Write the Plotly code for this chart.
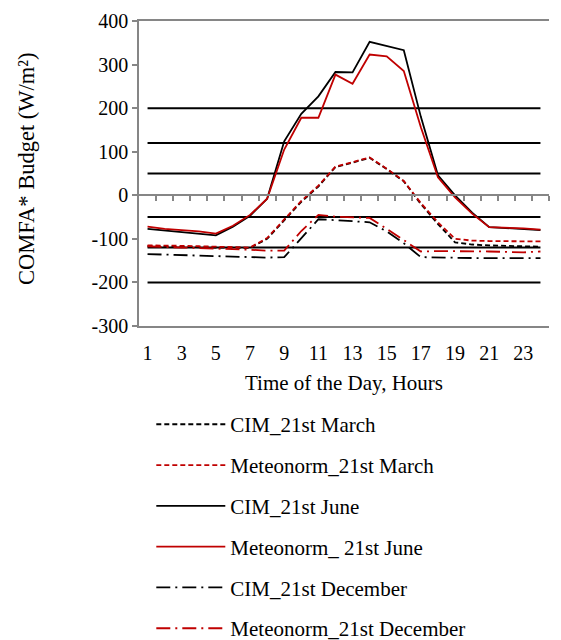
import plotly.graph_objects as go

hours = list(range(1, 25))
tick_hours = [1, 3, 5, 7, 9, 11, 13, 15, 17, 19, 21, 23]
tick_labels = [str(h) for h in tick_hours]
y_ticks = [-300, -200, -100, 0, 100, 200, 300, 400]
y_tick_labels = ["-300", "-200", "-100", "0", "100", "200", "300", "400"]

cim_march = [-117, -118, -118, -119, -120, -120, -121, -100, -57, -15, 20, 65,
             75, 86, 60, 32, -20, -66, -108, -113, -115, -116, -117, -118]
met_march = [-115, -115, -116, -117, -118, -119, -120, -98, -55, -13, 22, 66,
             76, 87, 61, 33, -18, -62, -100, -104, -105, -105, -106, -106]
cim_june = [-77, -81, -85, -88, -92, -72, -47, -8, 124, 187, 227, 283,
            282, 352, 343, 333, 180, 46, 0, -40, -73, -75, -77, -80]
met_june = [-72, -77, -80, -83, -88, -70, -45, -8, 105, 178, 178, 277,
            256, 323, 319, 285, 156, 41, -5, -42, -73, -74, -76, -79]
cim_dec = [-135, -136, -138, -139, -140, -140, -141, -143, -142, -98, -55, -57,
           -59, -62, -83, -110, -142, -143, -143, -144, -144, -144, -144, -144]
met_dec = [-117, -119, -120, -121, -122, -123, -125, -127, -127, -82, -45, -49,
           -50, -52, -77, -102, -129, -128, -128, -129, -129, -130, -131, -129]
thresholds = [200, 120, 50, -50, -120, -200]

RED = "#C00000"
BLACK = "#000000"
GRAY = "#868686"
FONT = "Liberation Serif"

series = [
    ("CIM_21st March", cim_march, BLACK, "5px,3px"),
    ("Meteonorm_21st March", met_march, RED, "5px,3px"),
    ("CIM_21st June", cim_june, BLACK, "solid"),
    ("Meteonorm_ 21st June", met_june, RED, "solid"),
    ("CIM_21st December", cim_dec, BLACK, "14px,5px,2px,5px"),
    ("Meteonorm_21st December", met_dec, RED, "14px,5px,2px,5px"),
]

fig = go.Figure()

for t in thresholds:
    fig.add_trace(go.Scatter(x=hours, y=[t] * len(hours), mode="lines",
                             line=dict(color=BLACK, width=2),
                             showlegend=False, hoverinfo="skip"))

for i, (name, vals, color, dash) in enumerate(series):
    fig.add_trace(go.Scatter(x=hours, y=vals, mode="lines", name=name,
                             legendgroup=f"g{i}",
                             line=dict(color=color, width=1.8, dash=dash)))

# zero axis with tick marks between categories
fig.add_trace(go.Scatter(x=[0.5, 24.5], y=[None, None], xaxis="x2",
                         showlegend=False, hoverinfo="skip"))

fig.update_layout(
    width=561, height=640,
    margin=dict(l=139, r=12, t=21, b=314, autoexpand=False),
    paper_bgcolor="white", plot_bgcolor="white",
    font=dict(family=FONT, size=20, color="black"),
    showlegend=True,
    legend=dict(x=0.03, xanchor="left", y=-0.256, yanchor="top",
                traceorder="grouped", tracegroupgap=10.5, itemwidth=69,
                font=dict(family=FONT, size=21, color="black"),
                bgcolor="rgba(0,0,0,0)"),
    xaxis=dict(range=[0.5, 24.5], tickmode="array", tickvals=tick_hours,
               ticktext=tick_labels, showgrid=False, zeroline=False,
               showline=True, linecolor=GRAY, linewidth=1.5, mirror=True,
               ticks="", ticklabelstandoff=8, automargin=False,
               tickfont=dict(family=FONT, size=20),
               title=dict(text="Time of the Day, Hours", standoff=13,
                          font=dict(family=FONT, size=21))),
    xaxis2=dict(range=[0.5, 24.5], overlaying="x", anchor="free",
                position=300 / 700, tickmode="array",
                tickvals=[h + 0.5 for h in hours], showticklabels=False,
                ticks="outside", ticklen=5, tickcolor=GRAY, tickwidth=1.5,
                showline=True, linecolor=GRAY, linewidth=1.5,
                showgrid=False, zeroline=False, automargin=False),
    yaxis=dict(range=[-300, 400], tickmode="array", tickvals=y_ticks,
               ticktext=y_tick_labels, automargin=False,
               showgrid=False, zeroline=False, showline=True,
               linecolor=GRAY, linewidth=1.5, ticks="outside", ticklen=5,
               tickcolor=GRAY, tickwidth=1.5,
               tickfont=dict(family=FONT, size=20)),
    annotations=[dict(text="COMFA* Budget (W/m²)", textangle=-90,
                      xref="paper", yref="paper", x=(26 - 139) / 410,
                      y=(326 - 168) / 305, xanchor="center", yanchor="middle",
                      showarrow=False, font=dict(family=FONT, size=22.5))],
)

fig.write_html("out.html", config={"displayModeBar": False},
               post_script="document.body.style.margin='0';"
                           "document.documentElement.style.margin='0';")
